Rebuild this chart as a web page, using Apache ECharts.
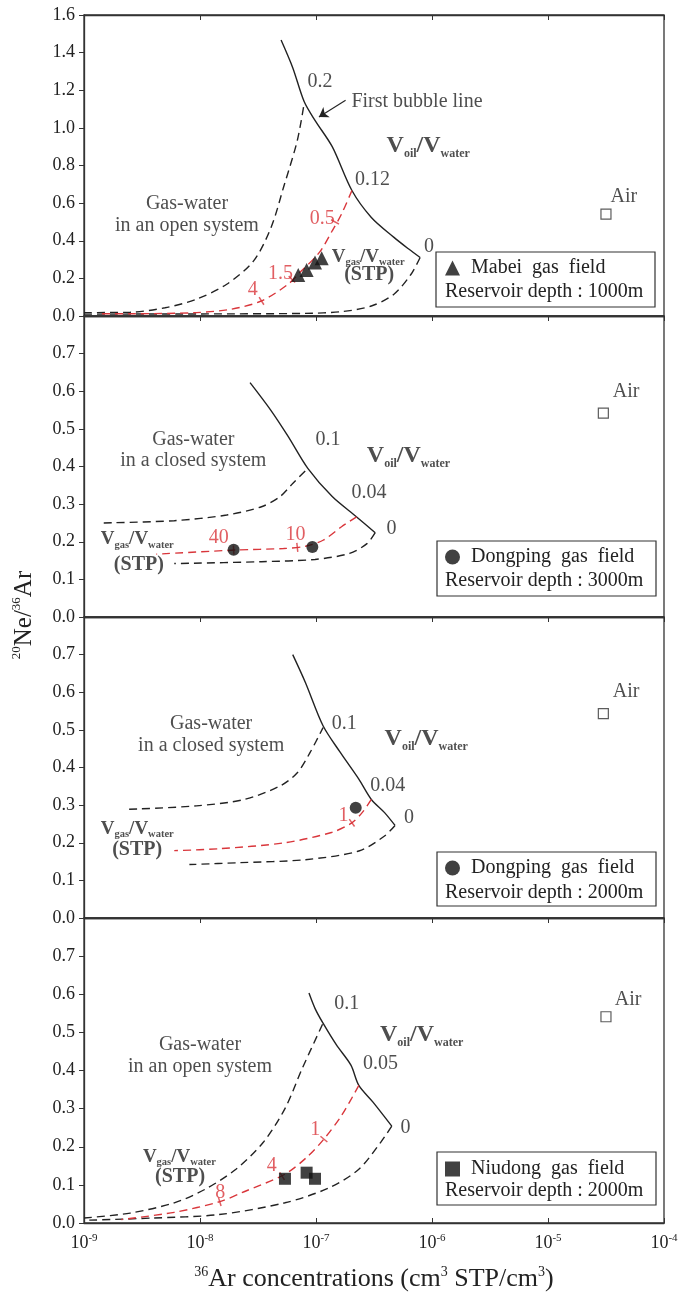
<!DOCTYPE html>
<html><head><meta charset="utf-8">
<script src="https://cdn.jsdelivr.net/npm/echarts@6/dist/echarts.min.js"></script>
<style>html,body{margin:0;padding:0;background:#fff}#c{width:683px;height:1297px}</style>
</head><body><div id="c"></div>
<script>
const FONT = "'Liberation Serif','Times New Roman',serif";
const RED = '#d9363b';
const INK = '#222';

// ---------- x axis ----------
const xMin = 1e-9, xMax = 1e-4;
const xTickLabels = {'-9':'10{e|-9}','-8':'10{e|-8}','-7':'10{e|-7}','-6':'10{e|-6}','-5':'10{e|-5}','-4':'10{e|-4}'};
const yMaxes = [1.6, 0.8, 0.8, 0.8];
const yIntervals = [0.2, 0.1, 0.1, 0.1];

// ---------- Panel 1: Mabei, open system, 1000 m ----------
const p1Bubble = [[5.0e-8,1.467],[6.3e-8,1.32],[7.9e-8,1.14],[9.8e-8,1.04],[1.38e-7,0.90],[2.04e-7,0.667],[3.0e-7,0.524],[4.7e-7,0.418],[6.3e-7,0.356],[7.9e-7,0.311]];
const p1Upper = [[1e-9,0.018],[2.5e-9,0.02],[5e-9,0.044],[9.3e-9,0.089],[1.7e-8,0.169],[2.9e-8,0.293],[4.1e-8,0.471],[5.25e-8,0.684],[6.9e-8,0.933],[7.9e-8,1.13]];
const p1Red = [[2.04e-7,0.667],[1.66e-7,0.542],[1.38e-7,0.453],[1.07e-7,0.338],[7.5e-8,0.24],[5.75e-8,0.169],[3.39e-8,0.08],[1.86e-8,0.036],[9.3e-9,0.018],[2.5e-9,0.012],[1.3e-9,0.012]];
const p1Lower = [[7.9e-7,0.311],[6.6e-7,0.222],[4.7e-7,0.116],[3.0e-7,0.053],[1.66e-7,0.023],[8.1e-8,0.014],[1e-8,0.011],[1e-9,0.01]];
const p1Samples = [[7.03e-8,0.218],[8.3e-8,0.245],[9.8e-8,0.284],[1.12e-7,0.307]];
const p1Ticks = [[1.46e-7,0.50,61],[6.2e-8,0.195,45],[3.39e-8,0.08,32]];
const p1Air = [[3.16e-5,0.542]];
const p1Arrow = [[1.8e-7,1.147],[1.06e-7,1.058]];
const p1Text = [
  [8.55e-8,1.244,'{n|0.2}','left'],
  [2.04e-7,1.138,'{n|First bubble line}','left'],
  [4.1e-7,0.903,'{V|V}{s|oil}{V|/V}{s|water}','left'],
  [2.19e-7,0.72,'{n|0.12}','left'],
  [7.8e-9,0.596,'{n|Gas-water}','center'],
  [7.8e-9,0.475,'{n|in an open system}','center'],
  [8.6e-7,0.364,'{n|0}','left'],
  [1.38e-7,0.312,'{W|V}{t|gas}{W|/V}{t|water}','left'],
  [2.9e-7,0.218,'{b|(STP)}','center'],
  [3.5e-5,0.631,'{n|Air}','left'],
  [8.9e-8,0.516,'{r|0.5}','left'],
  [3.9e-8,0.222,'{r|1.5}','left'],
  [2.6e-8,0.137,'{r|4}','left']
];

// ---------- Panel 2: Dongping, closed system, 3000 m ----------
const p2Bubble = [[2.7e-8,0.623],[4.07e-8,0.55],[5.75e-8,0.48],[8.5e-8,0.395],[1.38e-7,0.32],[2.24e-7,0.266],[3.24e-7,0.224]];
const p2Upper = [[1.48e-9,0.25],[6.0e-9,0.256],[1.7e-8,0.271],[3.39e-8,0.293],[4.9e-8,0.32],[6.3e-8,0.355],[8.5e-8,0.395]];
const p2Red = [[2.24e-7,0.266],[1.66e-7,0.24],[1.15e-7,0.204],[8.1e-8,0.188],[5.25e-8,0.182],[2.04e-8,0.178],[4.2e-9,0.167]];
const p2Lower = [[3.24e-7,0.224],[2.75e-7,0.195],[1.95e-7,0.169],[9.8e-8,0.153],[3.39e-8,0.147],[6.0e-9,0.142]];
const p2Samples = [[1.95e-8,0.179],[9.3e-8,0.186]];
const p2Ticks = [[6.9e-8,0.185,6],[1.95e-8,0.178,3]];
const p2Air = [[3.0e-5,0.542]];
const p2Text = [
  [1.0e-7,0.471,'{n|0.1}','left'],
  [2.77e-7,0.426,'{V|V}{s|oil}{V|/V}{s|water}','left'],
  [2.04e-7,0.329,'{n|0.04}','left'],
  [4.1e-7,0.233,'{n|0}','left'],
  [8.85e-9,0.471,'{n|Gas-water}','center'],
  [8.85e-9,0.413,'{n|in a closed system}','center'],
  [1.41e-9,0.205,'{W|V}{t|gas}{W|/V}{t|water}','left'],
  [3.0e-9,0.137,'{b|(STP)}','center'],
  [1.2e-8,0.21,'{r|40}','left'],
  [5.5e-8,0.216,'{r|10}','left'],
  [3.66e-5,0.597,'{n|Air}','left']
];

// ---------- Panel 3: Dongping, closed system, 2000 m ----------
const p3Bubble = [[6.3e-8,0.70],[8.1e-8,0.626],[1.15e-7,0.511],[1.62e-7,0.44],[2.34e-7,0.369],[3.0e-7,0.315],[3.9e-7,0.28],[4.8e-7,0.246]];
const p3Upper = [[2.45e-9,0.289],[9.3e-9,0.298],[2.4e-8,0.315],[4.9e-8,0.351],[6.9e-8,0.386],[8.9e-8,0.44],[1.15e-7,0.506]];
const p3Red = [[3.0e-7,0.315],[2.5e-7,0.28],[2.04e-7,0.253],[1.38e-7,0.228],[5.4e-8,0.2],[1.45e-8,0.184],[6.0e-9,0.179]];
const p3Lower = [[4.8e-7,0.246],[3.9e-7,0.218],[2.34e-7,0.178],[8.1e-8,0.155],[2.2e-8,0.147],[8.1e-9,0.142]];
const p3Samples = [[2.2e-7,0.293]];
const p3Ticks = [[2.04e-7,0.253,36]];
const p3Air = [[3.0e-5,0.543]];
const p3Text = [
  [1.38e-7,0.515,'{n|0.1}','left'],
  [3.94e-7,0.475,'{V|V}{s|oil}{V|/V}{s|water}','left'],
  [2.97e-7,0.351,'{n|0.04}','left'],
  [5.8e-7,0.266,'{n|0}','left'],
  [1.26e-8,0.515,'{n|Gas-water}','center'],
  [1.26e-8,0.457,'{n|in a closed system}','center'],
  [1.41e-9,0.236,'{W|V}{t|gas}{W|/V}{t|water}','left'],
  [2.9e-9,0.179,'{b|(STP)}','center'],
  [1.58e-7,0.271,'{r|1}','left'],
  [3.66e-5,0.6,'{n|Air}','left']
];

// ---------- Panel 4: Niudong, open system, 2000 m ----------
const p4Bubble = [[8.7e-8,0.603],[9.8e-8,0.563],[1.15e-7,0.524],[1.5e-7,0.467],[2.0e-7,0.414],[2.34e-7,0.361],[3.1e-7,0.317],[4.5e-7,0.254]];
const p4Upper = [[1e-9,0.013],[2.5e-9,0.026],[6.0e-9,0.053],[1.1e-8,0.088],[2.04e-8,0.141],[3.5e-8,0.211],[5.4e-8,0.30],[7.6e-8,0.405],[1.15e-7,0.524]];
const p4Red = [[2.34e-7,0.361],[1.66e-7,0.282],[1.17e-7,0.22],[8.3e-8,0.172],[5.4e-8,0.128],[2.4e-8,0.082],[1.48e-8,0.056],[6.0e-9,0.028],[2.1e-9,0.009]];
const p4Lower = [[4.5e-7,0.254],[3.6e-7,0.211],[2.34e-7,0.141],[1.29e-7,0.092],[5.4e-8,0.053],[1.45e-8,0.022],[3.9e-9,0.013],[1e-9,0.007]];
const p4Samples = [[5.4e-8,0.116],[8.3e-8,0.132],[9.8e-8,0.116]];
const p4Ticks = [[1.17e-7,0.22,50],[5.1e-8,0.123,32],[1.48e-8,0.056,17]];
const p4Air = [[3.16e-5,0.541]];
const p4Text = [
  [1.45e-7,0.574,'{n|0.1}','left'],
  [3.6e-7,0.493,'{V|V}{s|oil}{V|/V}{s|water}','left'],
  [2.57e-7,0.416,'{n|0.05}','left'],
  [5.4e-7,0.248,'{n|0}','left'],
  [1.01e-8,0.467,'{n|Gas-water}','center'],
  [1.01e-8,0.409,'{n|in an open system}','center'],
  [3.25e-9,0.172,'{W|V}{t|gas}{W|/V}{t|water}','left'],
  [6.8e-9,0.12,'{b|(STP)}','center'],
  [9.0e-8,0.242,'{r|1}','left'],
  [3.8e-8,0.148,'{r|4}','left'],
  [1.37e-8,0.077,'{r|8}','left'],
  [3.8e-5,0.583,'{n|Air}','left']
];

const fieldNames = ['Mabei gas field','Dongping gas field','Dongping gas field','Niudong gas field'];
const depthLabels = ['Reservoir depth : 1000m','Reservoir depth : 3000m','Reservoir depth : 2000m','Reservoir depth : 2000m'];

const panels = [
  {bubble:p1Bubble, upper:p1Upper, red:p1Red, lower:p1Lower, samples:p1Samples, ticks:p1Ticks, air:p1Air, text:p1Text, symbol:'triangle', size:14},
  {bubble:p2Bubble, upper:p2Upper, red:p2Red, lower:p2Lower, samples:p2Samples, ticks:p2Ticks, air:p2Air, text:p2Text, symbol:'circle', size:12},
  {bubble:p3Bubble, upper:p3Upper, red:p3Red, lower:p3Lower, samples:p3Samples, ticks:p3Ticks, air:p3Air, text:p3Text, symbol:'circle', size:12},
  {bubble:p4Bubble, upper:p4Upper, red:p4Red, lower:p4Lower, samples:p4Samples, ticks:p4Ticks, air:p4Air, text:p4Text, symbol:'rect', size:12}
];

// ---------- layout ----------
const gridTops = [15, 316, 617, 918];
const gridHeights = [301, 301, 301, 305];
const legendTops = [258, 547, 858, 1159];
const depthY = [292, 581, 893, 1191];
const boxes = [[436,252,219,55],[437,541,219,55],[437,852,219,54],[437,1152,219,53]];

const rich = {
  n: {fontSize:20, color:INK, fontFamily:FONT},
  r: {fontSize:20, color:RED, fontFamily:FONT},
  b: {fontSize:20, color:INK, fontFamily:FONT, fontWeight:'bold'},
  V: {fontSize:24, color:INK, fontFamily:FONT, fontWeight:'bold', lineHeight:28},
  s: {fontSize:12, color:INK, fontFamily:FONT, fontWeight:'bold', verticalAlign:'bottom', lineHeight:12},
  W: {fontSize:19, color:INK, fontFamily:FONT, fontWeight:'bold', lineHeight:22},
  t: {fontSize:10.5, color:INK, fontFamily:FONT, fontWeight:'bold', verticalAlign:'bottom', lineHeight:10}
};

const grids = [], xAxes = [], yAxes = [], series = [], legends = [];
panels.forEach((p, i) => {
  grids.push({left:84, width:580, top:gridTops[i], height:gridHeights[i], show:true,
    borderColor:'#333', borderWidth:1.3, backgroundColor:'transparent', outerBoundsMode:'none', containLabel:false});
  const last = i === 3;
  xAxes.push({type:'log', logBase:10, gridIndex:i, min:xMin, max:xMax, position:'bottom',
    axisLine:{show:true, lineStyle:{color:'#333', width:1.3}},
    axisTick:{show:last, inside:true, length:5, lineStyle:{color:'#333'}},
    minorTick:{show:false}, splitLine:{show:false},
    axisLabel:{show:last, margin:10, color:INK, fontFamily:FONT,
      formatter: v => xTickLabels[String(Math.round(Math.log10(v)))] || '',
      rich:{e:{fontSize:11, fontFamily:FONT, color:INK, verticalAlign:'top', lineHeight:10}},
      fontSize:18, lineHeight:20},
    name: last ? '{s|36}Ar concentrations (cm{s|3} STP/cm{s|3})' : '',
    nameLocation:'middle', nameGap:42,
    nameTextStyle:{fontSize:26, fontFamily:FONT, color:INK, lineHeight:28,
      rich:{s:{fontSize:14, fontFamily:FONT, color:INK, verticalAlign:'top', lineHeight:12}}}
  });
  xAxes.push({type:'log', logBase:10, gridIndex:i, min:xMin, max:xMax, position:'top',
    axisLine:{show:true, lineStyle:{color:'#333', width:1.3}},
    axisTick:{show:true, inside:true, length:5, lineStyle:{color:'#333'}},
    axisLabel:{show:false}, splitLine:{show:false}});
  yAxes.push({type:'value', gridIndex:i, min:0, max:yMaxes[i], interval:yIntervals[i],
    axisLine:{show:true, lineStyle:{color:'#333', width:1.3}},
    axisTick:{show:true, inside:false, length:5, lineStyle:{color:'#333'}},
    splitLine:{show:false},
    axisLabel:{margin:9, fontSize:18, fontFamily:FONT, color:INK, showMaxLabel: i===0,
      formatter: v => v.toFixed(1)}
  });
  const xi = 2*i, yi = i;
  const dashed = (data, color) => ({type:'line', xAxisIndex:xi, yAxisIndex:yi, data, smooth:0.3,
    symbol:'none', silent:true, lineStyle:{color, width:1.4, type:[8,5]}, z:3});
  series.push({type:'line', xAxisIndex:xi, yAxisIndex:yi, data:p.bubble, smooth:0.3, symbol:'none', silent:true,
    lineStyle:{color:INK, width:1.4}, z:3});
  series.push(dashed(p.upper, INK));
  series.push(dashed(p.lower, INK));
  series.push(dashed(p.red, RED));
  series.push({type:'scatter', xAxisIndex:xi, yAxisIndex:yi, silent:true, symbol:'rect', symbolSize:[1.5,9],
    itemStyle:{color:RED}, z:4,
    data:p.ticks.map(t => ({value:[t[0], t[1]], symbolRotate:t[2]}))});
  series.push({type:'scatter', name:fieldNames[i], xAxisIndex:xi, yAxisIndex:yi, symbol:p.symbol, symbolSize:p.size,
    itemStyle:{color:'#111'}, z:6, data:p.samples});
  series.push({type:'scatter', xAxisIndex:xi, yAxisIndex:yi, silent:true, symbol:'rect', symbolSize:10,
    itemStyle:{color:'#fff', borderColor:'#333', borderWidth:1.2}, z:5, data:p.air});
  series.push({type:'scatter', xAxisIndex:xi, yAxisIndex:yi, silent:true, symbolSize:1,
    itemStyle:{color:'transparent'}, z:7,
    label:{show:true, position:[0,0], verticalAlign:'middle', rich},
    data:p.text.map(t => ({value:[t[0], t[1]], label:{formatter:t[2], align:t[3]}}))});
  legends.push({data:[fieldNames[i]], left:445, top:legendTops[i], padding:0, itemWidth:15, itemHeight:15,
    selectedMode:false, formatter: nm => nm.split(' ').join('  '),
    textStyle:{fontSize:20, fontFamily:FONT, color:INK, padding:[0,0,0,6]}});
});

// arrow for "First bubble line"
series.push({type:'line', xAxisIndex:0, yAxisIndex:0, data:[], silent:true,
  markLine:{silent:true, symbol:['none','arrow'], symbolSize:9,
    label:{show:false}, lineStyle:{color:INK, width:1.1, type:'solid'},
    data:[[{coord:p1Arrow[0]},{coord:p1Arrow[1]}]]}});

const graphics = [];
boxes.forEach((b, i) => {
  graphics.push({type:'rect', shape:{x:b[0], y:b[1], width:b[2], height:b[3]}, z:20,
    style:{fill:'rgba(255,255,255,0)', stroke:'#333', lineWidth:1.2}});
  graphics.push({type:'text', x:445, y:depthY[i], z:20,
    style:{text:depthLabels[i], font:'20px ' + FONT, fill:INK, verticalAlign:'middle', align:'left'}});
});
graphics.push({type:'text', x:24, y:615, rotation:Math.PI/2, z:20,
  style:{text:'{s|20}{m|Ne/}{s|36}{m|Ar}', align:'center', verticalAlign:'middle',
    rich:{m:{fontSize:25, fontFamily:FONT, fill:INK, lineHeight:28},
          s:{fontSize:13, fontFamily:FONT, fill:INK, verticalAlign:'top', lineHeight:12}}}});

const chart = echarts.init(document.getElementById('c'), null, {renderer:'canvas', width:683, height:1297});
chart.setOption({
  animation:false,
  backgroundColor:'#fff',
  grid:grids, xAxis:xAxes, yAxis:yAxes, legend:legends, series, graphic:graphics
});
</script></body></html>
